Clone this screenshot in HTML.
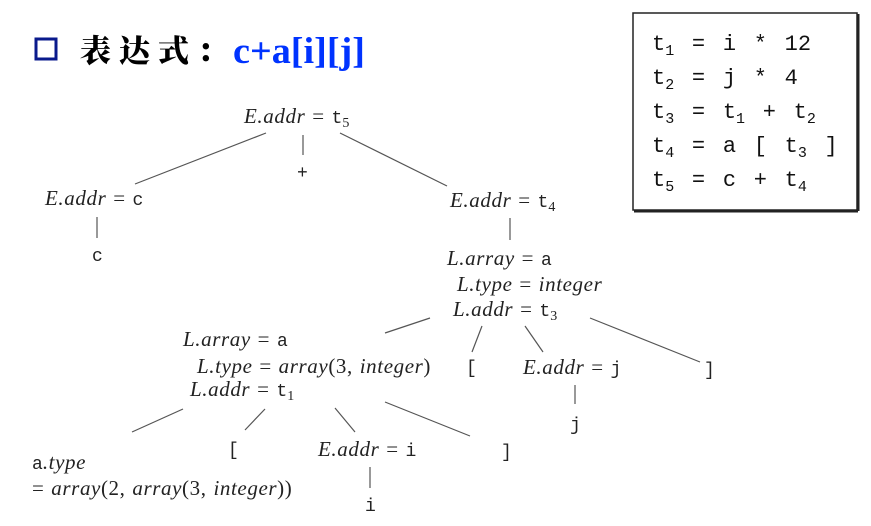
<!DOCTYPE html>
<html><head><meta charset="utf-8"><style>
body{margin:0;background:#fff}
svg{display:block}
.t{font-family:"Liberation Serif",serif;font-style:italic;font-size:21px;fill:#222;letter-spacing:0.6px;word-spacing:1px}
.u{font-style:normal}
.m{font-family:"Liberation Mono",monospace;font-style:normal;font-size:18px;fill:#222;letter-spacing:0}
.c{font-family:"Liberation Mono",monospace;font-size:22px;fill:#111;white-space:pre;word-spacing:4.5px}
line{stroke:#555;stroke-width:1.2}
</style></head><body>
<svg width="871" height="526" xml:space="preserve">
<rect x="36" y="39" width="20" height="20" fill="none" stroke="#0a1a8c" stroke-width="3"/>
<text x="80" y="62" font-family="'Noto Serif CJK SC','Noto Sans CJK SC',serif" font-weight="900" font-size="31" letter-spacing="8" fill="#000">表达式：</text>
<text x="233" y="63" font-family="'Liberation Serif',serif" font-weight="bold" font-size="37" fill="#0033ff" textLength="132" lengthAdjust="spacingAndGlyphs">c+a[i][j]</text>

<g>
<rect x="633" y="13" width="224" height="197" fill="#fff" stroke="#222" stroke-width="1.5"/>
<line x1="634" y1="211" x2="858" y2="211" style="stroke:#222;stroke-width:3"/>
<line x1="858" y1="14" x2="858" y2="211" style="stroke:#222;stroke-width:3"/>
<text class="c" x="652" y="50">t<tspan font-size="15" dy="5">1</tspan><tspan dy="-5"> = i * 12</tspan></text>
<text class="c" x="652" y="84">t<tspan font-size="15" dy="5">2</tspan><tspan dy="-5"> = j * 4</tspan></text>
<text class="c" x="652" y="118">t<tspan font-size="15" dy="5">3</tspan><tspan dy="-5"> = t</tspan><tspan font-size="15" dy="5">1</tspan><tspan dy="-5"> + t</tspan><tspan font-size="15" dy="5">2</tspan></text>
<text class="c" x="652" y="152">t<tspan font-size="15" dy="5">4</tspan><tspan dy="-5"> = a [ t</tspan><tspan font-size="15" dy="5">3</tspan><tspan dy="-5"> ]</tspan></text>
<text class="c" x="652" y="186">t<tspan font-size="15" dy="5">5</tspan><tspan dy="-5"> = c + t</tspan><tspan font-size="15" dy="5">4</tspan></text>
</g>

<g>
<line x1="266" y1="133" x2="135" y2="184"/>
<line x1="303" y1="135" x2="303" y2="155"/>
<line x1="340" y1="133" x2="447" y2="186"/>
<line x1="97" y1="217" x2="97" y2="238"/>
<line x1="510" y1="218" x2="510" y2="240"/>
<line x1="430" y1="318" x2="385" y2="333"/>
<line x1="482" y1="326" x2="472" y2="352"/>
<line x1="525" y1="326" x2="543" y2="352"/>
<line x1="590" y1="318" x2="700" y2="362"/>
<line x1="575" y1="385" x2="575" y2="404"/>
<line x1="183" y1="409" x2="132" y2="432"/>
<line x1="265" y1="409" x2="245" y2="430"/>
<line x1="335" y1="408" x2="355" y2="432"/>
<line x1="385" y1="402" x2="470" y2="436"/>
<line x1="370" y1="467" x2="370" y2="488"/>
</g>

<g>
<text class="t" x="244" y="123">E.addr <tspan class="u">=</tspan> <tspan class="m">t</tspan><tspan class="u" font-size="14" dy="4">5</tspan></text>
<text class="m" x="297" y="178">+</text>
<text class="t" x="45" y="205">E.addr <tspan class="u">=</tspan> <tspan class="m">c</tspan></text>
<text class="m" x="92" y="261">c</text>
<text class="t" x="450" y="207">E.addr <tspan class="u">=</tspan> <tspan class="m">t</tspan><tspan class="u" font-size="14" dy="4">4</tspan></text>
<text class="t" x="447" y="265">L.array <tspan class="u">=</tspan> <tspan class="m">a</tspan></text>
<text class="t" x="457" y="291">L.type <tspan class="u">=</tspan> integer</text>
<text class="t" x="453" y="316">L.addr <tspan class="u">=</tspan> <tspan class="m">t</tspan><tspan class="u" font-size="14" dy="4">3</tspan></text>
<text class="t" x="183" y="346">L.array <tspan class="u">=</tspan> <tspan class="m">a</tspan></text>
<text class="t" x="197" y="373">L.type <tspan class="u">=</tspan> array<tspan class="u">(3, </tspan>integer<tspan class="u">)</tspan></text>
<text class="t" x="190" y="396">L.addr <tspan class="u">=</tspan> <tspan class="m">t</tspan><tspan class="u" font-size="14" dy="4">1</tspan></text>
<text class="m" x="466" y="373">[</text>
<text class="t" x="523" y="374">E.addr <tspan class="u">=</tspan> <tspan class="m">j</tspan></text>
<text class="m" x="704" y="375">]</text>
<text class="m" x="570" y="430">j</text>
<text class="t" x="32" y="469"><tspan class="m">a</tspan>.type</text>
<text class="t" x="32" y="495"><tspan class="u">= </tspan>array<tspan class="u">(2, </tspan>array<tspan class="u">(3, </tspan>integer<tspan class="u">))</tspan></text>
<text class="m" x="228" y="455">[</text>
<text class="t" x="318" y="456">E.addr <tspan class="u">=</tspan> <tspan class="m">i</tspan></text>
<text class="m" x="501" y="457">]</text>
<text class="m" x="365" y="511">i</text>
</g>
</svg>
</body></html>
